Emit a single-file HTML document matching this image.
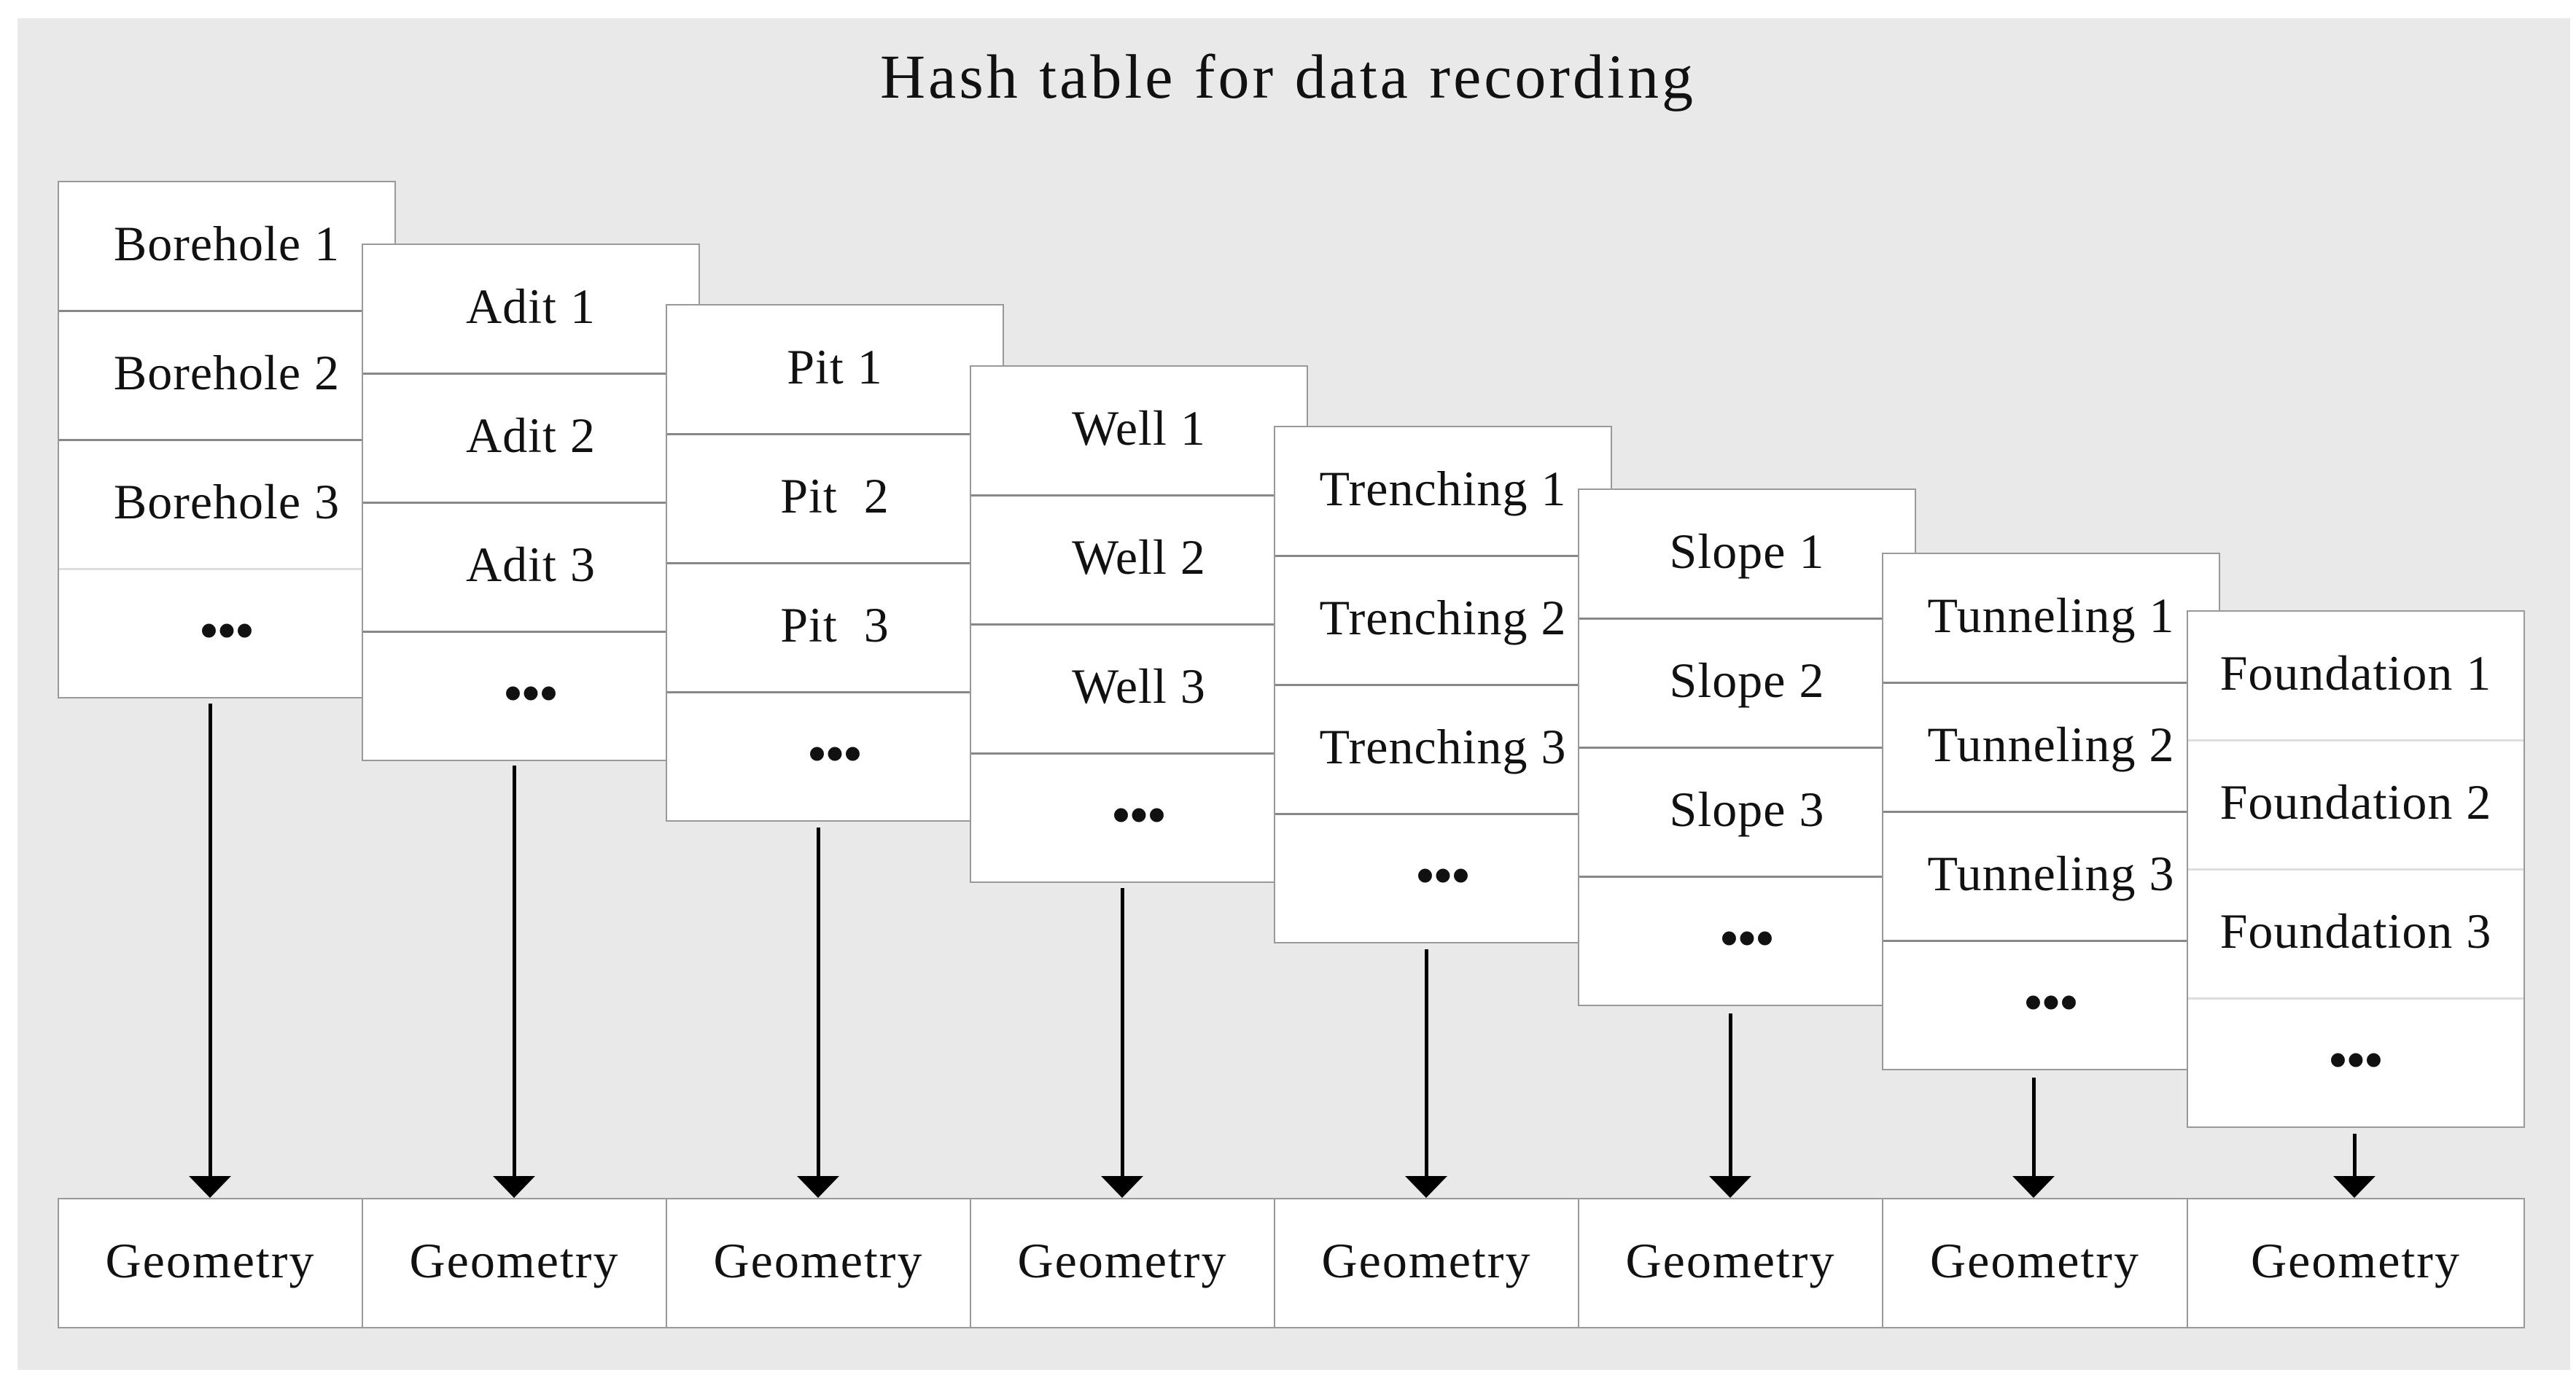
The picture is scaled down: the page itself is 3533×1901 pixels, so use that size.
<!DOCTYPE html>
<html><head><meta charset="utf-8"><style>
body{margin:0;width:3533px;height:1901px;background:#fff;position:relative;overflow:hidden;font-family:"Liberation Serif",serif;color:#111}
.bg{position:absolute;left:24px;top:25px;width:3501px;height:1854px;background:#e9e9e9}
.title{position:absolute;left:0;width:3533px;top:60px;text-align:center;font-size:86px;letter-spacing:4px;line-height:90px}
.col{position:absolute;width:460px;height:706px;background:#fff;border:2px solid #999}
.row{position:absolute;left:0;width:460px;height:177px;text-align:center;line-height:169px;font-size:68px;letter-spacing:1px;white-space:nowrap}
.line{position:absolute;left:0;width:460px;height:0;border-top:3px solid #888}
.dots{font-weight:bold;font-size:70px;letter-spacing:0px}
.shaft{position:absolute;width:5px;background:#000}
.head{position:absolute;width:0;height:0;border-left:29px solid transparent;border-right:29px solid transparent;border-top:30px solid #000}
.geo{position:absolute;top:1643px;height:175px;background:#fff;border:2px solid #999;text-align:center;line-height:169px;font-size:68px;letter-spacing:2px}
</style></head><body>
<div class="bg"></div>
<div class="title">Hash table for data recording</div>

<div class="col" style="left:79px;top:248px;z-index:1">
<div class="row" style="top:0">Borehole 1</div><div class="row" style="top:177px">Borehole 2</div><div class="row" style="top:354px">Borehole 3</div><div class="row dots" style="top:531px">•••</div>
<div class="line" style="top:175px"></div><div class="line" style="top:352px"></div><div class="line" style="top:529px;border-color:#ddd"></div></div>

<div class="col" style="left:496px;top:334px;z-index:2">
<div class="row" style="top:0">Adit 1</div><div class="row" style="top:177px">Adit 2</div><div class="row" style="top:354px">Adit 3</div><div class="row dots" style="top:531px">•••</div>
<div class="line" style="top:175px"></div><div class="line" style="top:352px"></div><div class="line" style="top:529px"></div></div>

<div class="col" style="left:913px;top:417px;z-index:3">
<div class="row" style="top:0">Pit 1</div><div class="row" style="top:177px">Pit&nbsp; 2</div><div class="row" style="top:354px">Pit&nbsp; 3</div><div class="row dots" style="top:531px">•••</div>
<div class="line" style="top:175px"></div><div class="line" style="top:352px"></div><div class="line" style="top:529px"></div></div>

<div class="col" style="left:1330px;top:501px;z-index:4">
<div class="row" style="top:0">Well 1</div><div class="row" style="top:177px">Well 2</div><div class="row" style="top:354px">Well 3</div><div class="row dots" style="top:531px">•••</div>
<div class="line" style="top:175px"></div><div class="line" style="top:352px"></div><div class="line" style="top:529px"></div></div>

<div class="col" style="left:1747px;top:584px;z-index:5">
<div class="row" style="top:0">Trenching 1</div><div class="row" style="top:177px">Trenching 2</div><div class="row" style="top:354px">Trenching 3</div><div class="row dots" style="top:531px">•••</div>
<div class="line" style="top:175px"></div><div class="line" style="top:352px"></div><div class="line" style="top:529px"></div></div>

<div class="col" style="left:2164px;top:670px;z-index:6">
<div class="row" style="top:0">Slope 1</div><div class="row" style="top:177px">Slope 2</div><div class="row" style="top:354px">Slope 3</div><div class="row dots" style="top:531px">•••</div>
<div class="line" style="top:175px"></div><div class="line" style="top:352px"></div><div class="line" style="top:529px"></div></div>

<div class="col" style="left:2581px;top:758px;z-index:7">
<div class="row" style="top:0">Tunneling 1</div><div class="row" style="top:177px">Tunneling 2</div><div class="row" style="top:354px">Tunneling 3</div><div class="row dots" style="top:531px">•••</div>
<div class="line" style="top:175px"></div><div class="line" style="top:352px"></div><div class="line" style="top:529px"></div></div>

<div class="col" style="left:2999px;top:837px;z-index:8">
<div class="row" style="top:0">Foundation 1</div><div class="row" style="top:177px">Foundation 2</div><div class="row" style="top:354px">Foundation 3</div><div class="row dots" style="top:531px">•••</div>
<div class="line" style="top:175px;border-color:#ddd"></div><div class="line" style="top:352px;border-color:#ddd"></div><div class="line" style="top:529px;border-color:#ddd"></div></div>

<div class="shaft" style="left:286px;top:965px;height:650px"></div><div class="head" style="left:259px;top:1613px"></div>
<div class="shaft" style="left:703px;top:1050px;height:565px"></div><div class="head" style="left:676px;top:1613px"></div>
<div class="shaft" style="left:1120px;top:1135px;height:480px"></div><div class="head" style="left:1093px;top:1613px"></div>
<div class="shaft" style="left:1537px;top:1218px;height:397px"></div><div class="head" style="left:1510px;top:1613px"></div>
<div class="shaft" style="left:1954px;top:1302px;height:313px"></div><div class="head" style="left:1927px;top:1613px"></div>
<div class="shaft" style="left:2371px;top:1390px;height:225px"></div><div class="head" style="left:2344px;top:1613px"></div>
<div class="shaft" style="left:2787px;top:1478px;height:137px"></div><div class="head" style="left:2760px;top:1613px"></div>
<div class="shaft" style="left:3227px;top:1555px;height:60px"></div><div class="head" style="left:3200px;top:1613px"></div>

<div class="geo" style="left:79px;width:415px">Geometry</div>
<div class="geo" style="left:496px;width:415px">Geometry</div>
<div class="geo" style="left:913px;width:415px">Geometry</div>
<div class="geo" style="left:1330px;width:415px">Geometry</div>
<div class="geo" style="left:1747px;width:415px">Geometry</div>
<div class="geo" style="left:2164px;width:415px">Geometry</div>
<div class="geo" style="left:2581px;width:416px">Geometry</div>
<div class="geo" style="left:2999px;width:460px">Geometry</div>
</body></html>
